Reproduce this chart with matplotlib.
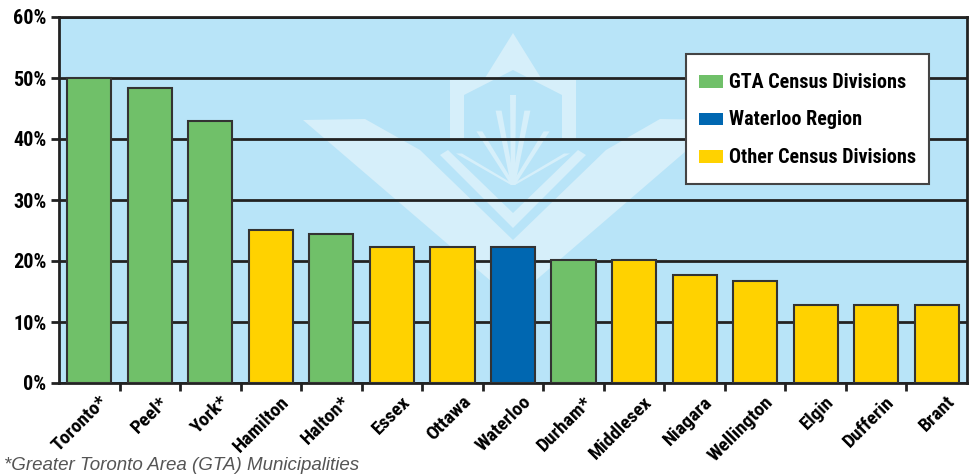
import matplotlib.pyplot as plt
from matplotlib.patches import Patch, Polygon, Rectangle
from matplotlib.legend_handler import HandlerPatch

# share of population, by census division
divisions = ["Toronto*", "Peel*", "York*", "Hamilton", "Halton*", "Essex", "Ottawa",
             "Waterloo", "Durham*", "Middlesex", "Niagara", "Wellington", "Elgin",
             "Dufferin", "Brant"]
values = [50.0, 48.4, 43.0, 25.1, 24.4, 22.3, 22.3, 22.3, 20.2, 20.2, 17.7, 16.7, 12.8, 12.8, 12.8]
groups = ["GTA", "GTA", "GTA", "Other", "GTA", "Other", "Other", "Waterloo", "GTA",
          "Other", "Other", "Other", "Other", "Other", "Other"]
y_ticks = [0, 10, 20, 30, 40, 50, 60]

colors = {"GTA": "#70c069", "Waterloo": "#0067b1", "Other": "#ffd200"}
legend_labels = {"GTA": "GTA Census Divisions", "Waterloo": "Waterloo Region",
                 "Other": "Other Census Divisions"}

plt.rcParams["font.family"] = ["Roboto Condensed", "DejaVu Sans"]
plt.rcParams["font.weight"] = "heavy"

W, H = 969, 475
fig = plt.figure(figsize=(W / 100, H / 100), dpi=100)
ax = fig.add_axes([59 / W, 1 - 383 / H, 908 / W, 366 / H])
ax.set_facecolor("#b8e4f8")


# faint logo watermark behind the chart (pixel coords from top-left)
def px(pts):
    return [(x / W, 1 - y / H) for x, y in pts]


wm = "#d6effa"
shapes = [
    [(303, 120), (365, 119), (420, 150), (513, 240), (606, 150), (660, 119), (722, 120), (513, 300)],
    [(448, 150), (513, 213), (578, 150), (586, 155), (513, 228), (440, 155)],
    [(450, 140), (450, 80), (485, 78), (513, 33), (541, 78), (576, 80), (576, 140),
     (562, 138), (562, 95), (513, 70), (464, 95), (464, 138)],
]
for s in shapes:
    ax.add_patch(Polygon(px(s), closed=True, transform=fig.transFigure,
                         facecolor=wm, edgecolor="none", zorder=0.5))
for dx in [-45, -28, -12, 0, 12, 28, 45]:
    ax.add_patch(Polygon(px([(513 + dx * 1.2 - 3, 95 + abs(dx) * 1.3), (513 + dx * 1.2 + 3, 95 + abs(dx) * 1.3),
                             (513 + 2, 185), (513 - 2, 185)]),
                         closed=True, transform=fig.transFigure,
                         facecolor=wm, edgecolor="none", zorder=0.5))

x = list(range(len(divisions)))
ax.bar(x, values, width=0.73, color=[colors[g] for g in groups],
       edgecolor="#333333", linewidth=1.5, zorder=3)

ax.set_ylim(0, 60)
ax.set_xlim(-0.5, len(divisions) - 0.5)
ax.set_yticks(y_ticks)
ax.set_yticklabels([f"{t}%" for t in y_ticks], fontsize=14.5, fontweight="heavy")
ax.yaxis.grid(True, color="#222222", linewidth=2, zorder=1)
ax.tick_params(axis="y", length=6, width=2, color="#222222", pad=3)

ax.set_xticks([i + 0.15 for i in x])
ax.set_xticklabels(divisions, rotation=45, ha="right", rotation_mode="anchor",
                   fontsize=14, fontweight="heavy")
ax.tick_params(axis="x", which="major", length=0, pad=7)
ax.set_xticks([i + 0.5 for i in x[:-1]], minor=True)
ax.tick_params(axis="x", which="minor", length=6, width=2, color="#222222")

for s in ax.spines.values():
    s.set_color("#222222")
    s.set_linewidth(2)


# legend swatches are shorter than the legend rows
def swatch(legend, orig_handle, xdescent, ydescent, width, height, fontsize):
    return Rectangle((-xdescent, -ydescent + height * 0.28), width, height * 0.44)


keys = ["GTA", "Waterloo", "Other"]
handles = [Patch(facecolor=colors[k], edgecolor="none") for k in keys]
leg = ax.legend(handles, [legend_labels[k] for k in keys],
                loc="upper right", bbox_to_anchor=(0.958, 0.899), borderaxespad=0,
                fontsize=14.5, frameon=True, fancybox=False, handlelength=1.15,
                handleheight=1.8, labelspacing=0.45, borderpad=0.65, handletextpad=0.3,
                handler_map={Patch: HandlerPatch(patch_func=swatch)})
leg.get_frame().set_edgecolor("#444444")
leg.get_frame().set_linewidth(1.5)
leg.get_frame().set_facecolor("white")
leg.get_frame().set_alpha(1)
for t in leg.get_texts():
    t.set_fontweight("heavy")

fig.text(0.004, 0.002, "*Greater Toronto Area (GTA) Municipalities", fontsize=13.5,
         style="italic", fontweight="normal", color="#555555", va="bottom",
         family="Liberation Sans")

fig.savefig("out.png", dpi=100)
